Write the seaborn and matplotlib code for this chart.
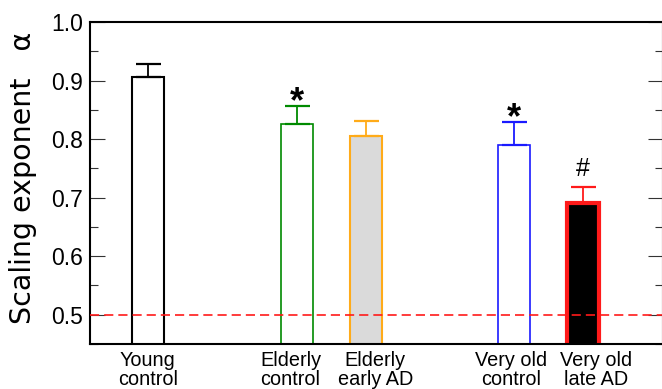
import matplotlib
matplotlib.use("Agg")
import matplotlib.pyplot as plt
from matplotlib.ticker import MultipleLocator
import pandas as pd
import seaborn as sns

# values
groups = ["Young\ncontrol", "Elderly\ncontrol", "Elderly\nearly AD", "Very old\ncontrol", "Very old\nlate AD"]
alpha_mean = [0.906, 0.826, 0.806, 0.790, 0.691]
alpha_err = [0.022, 0.031, 0.025, 0.040, 0.027]
marks = ["", "*", "", "*", "#"]
threshold = 0.5

# layout / styling
bar_pos = [0.0, 2.16, 3.16, 5.31, 6.31]
label_pos = [0.0, 2.07, 3.30, 5.265, 6.50]
face_colors = ["white", "white", "#dadada", "white", "black"]
edge_colors = ["black", "#008a00", "#ffab19", "#1a1aff", "#ff1a1a"]
edge_widths = [1.5, 1.2, 1.5, 1.2, 3.0]

sns.set_theme(style="ticks", rc={"text.color": "black", "axes.labelcolor": "black",
                                 "xtick.color": "black", "ytick.color": "black"})
plt.rcParams["font.family"] = ["Liberation Sans", "DejaVu Sans"]

df = pd.DataFrame({"pos": bar_pos, "alpha": alpha_mean})

fig = plt.figure(figsize=(6.62, 3.89), dpi=100)
ax = fig.add_axes([90 / 662, 1 - 344 / 389, 573 / 662, 322 / 389])

sns.barplot(data=df, x="pos", y="alpha", native_scale=True, width=0.464,
            errorbar=None, ax=ax, zorder=2)
for patch, fc, ec, lw in zip(ax.patches, face_colors, edge_colors, edge_widths):
    patch.set_facecolor(fc)
    patch.set_edgecolor(ec)
    patch.set_linewidth(lw)

for x, m, e, c in zip(bar_pos, alpha_mean, alpha_err, edge_colors):
    ax.errorbar(x, m, yerr=[[0], [e]], fmt="none", ecolor=c, elinewidth=1.3,
                capsize=9, capthick=1.6, zorder=3)

for x, m, e, mk in zip(bar_pos, alpha_mean, alpha_err, marks):
    if mk == "*":
        ax.annotate(mk, (x, m + e), xytext=(0, -5), textcoords="offset points",
                    ha="center", va="baseline", fontsize=26, fontweight="bold")
    elif mk:
        ax.annotate(mk, (x, m + e), xytext=(0, 8), textcoords="offset points",
                    ha="center", va="baseline", fontsize=18)

ax.axhline(threshold, color="#ff1a1a", lw=1.2, ls=(0, (5.5, 3)), zorder=5)

ax.set_xlim(-0.836, 7.47)
ax.set_ylim(0.45, 1.0)
ax.set_xticks(label_pos)
ax.set_xticklabels(groups, fontsize=14.3, linespacing=1.0)
ax.tick_params(axis="x", length=0, pad=5, labelcolor="black")
ax.yaxis.set_minor_locator(MultipleLocator(0.05))
ax.set_yticks([0.5, 0.6, 0.7, 0.8, 0.9, 1.0])
ax.set_yticklabels(["0.5", "0.6", "0.7", "0.8", "0.9", "1.0"], fontsize=16.5)
ax.tick_params(axis="y", which="both", direction="in", left=True, right=True,
               color="#333333", labelcolor="black", width=0.8, pad=5)
ax.tick_params(axis="y", which="major", length=10.5)
ax.tick_params(axis="y", which="minor", length=5.5)

ax.set_xlabel("")
ax.set_ylabel("Scaling exponent   α", fontsize=20.5, family="DejaVu Sans", color="black")
ax.yaxis.set_label_coords(-0.093, 0.515)

for side in ["left", "top", "right", "bottom"]:
    ax.spines[side].set_linewidth(1.5)
    ax.spines[side].set_color("black")

fig.savefig("out.png", dpi=100)
